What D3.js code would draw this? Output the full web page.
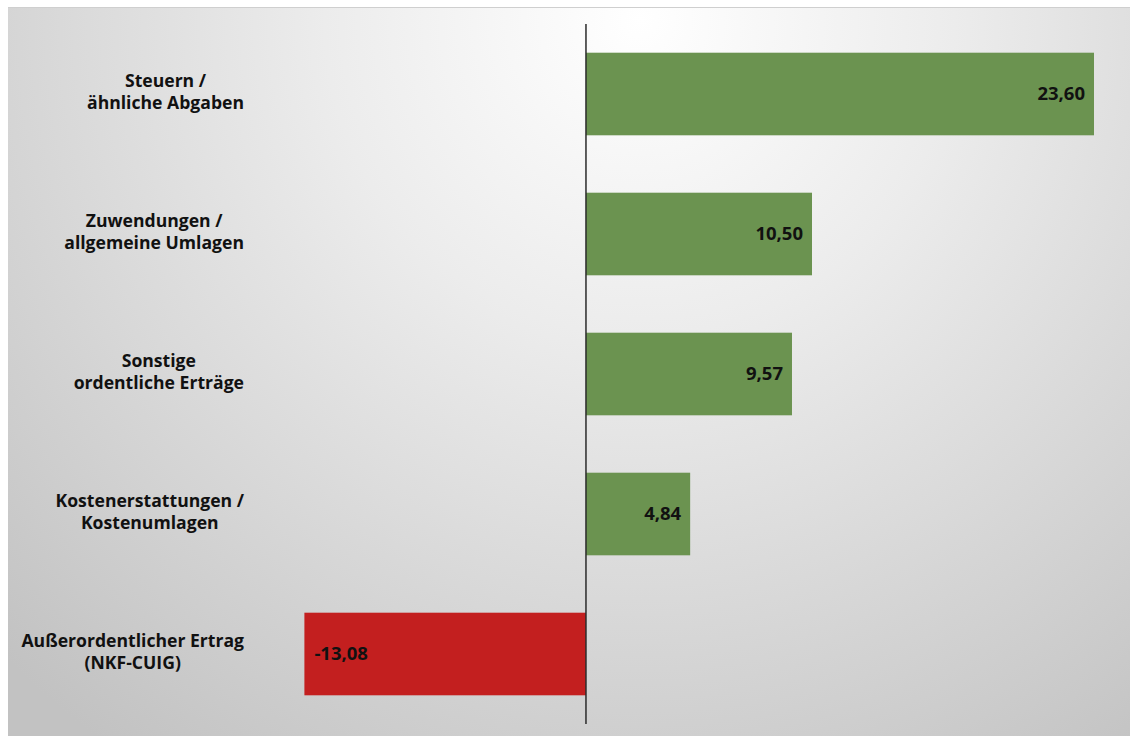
<!DOCTYPE html>
<html lang="de">
<head>
<meta charset="utf-8">
<script src="https://cdn.jsdelivr.net/npm/d3@7"></script>
<style>
  html, body { margin: 0; padding: 0; background: #ffffff; }
  svg { display: block; }
  text { font-family: "Open Sans", "Noto Sans", sans-serif; font-weight: 700; fill: #111; }
</style>
</head>
<body>
<svg id="chart" width="1134" height="736"></svg>
<script>
// Ertragsarten (Mio. EUR)
const categories = [
  ["Steuern /", "ähnliche Abgaben"],
  ["Zuwendungen /", "allgemeine Umlagen"],
  ["Sonstige", "ordentliche Erträge"],
  ["Kostenerstattungen /", "Kostenumlagen"],
  ["Außerordentlicher Ertrag", "(NKF-CUIG)"]
];
const values = [23.60, 10.50, 9.57, 4.84, -13.08];
const valueLabels = ["23,60", "10,50", "9,57", "4,84", "-13,08"];

const W = 1134, H = 736;
const svg = d3.select("#chart");

// Hintergrund mit radialem Verlauf
const defs = svg.append("defs");
const grad = defs.append("radialGradient")
  .attr("id", "bg")
  .attr("gradientUnits", "userSpaceOnUse")
  .attr("cx", 640).attr("cy", 20).attr("r", 900)
  .attr("fx", 640).attr("fy", 20);
grad.append("stop").attr("offset", "0%").attr("stop-color", "#ffffff");
grad.append("stop").attr("offset", "35%").attr("stop-color", "#ececec");
grad.append("stop").attr("offset", "100%").attr("stop-color", "#c2c2c2");

svg.append("rect")
  .attr("x", 8).attr("y", 7).attr("width", 1122).attr("height", H - 7)
  .attr("fill", "url(#bg)");
svg.append("line")
  .attr("x1", 8).attr("x2", 1130).attr("y1", 7.5).attr("y2", 7.5)
  .attr("stroke", "#cfcfcf").attr("stroke-width", 1);

const idx = d3.range(values.length);

const x = d3.scaleLinear()
  .domain([-13.08, 23.60])
  .range([304.4, 1094]);

const y = d3.scaleBand()
  .domain(idx)
  .range([24, 724])
  .paddingInner(0.41)
  .paddingOuter(0.205);

const colorFor = v => v >= 0 ? "#6b9350" : "#c31f1f";

// Balken
svg.append("g").selectAll("rect")
  .data(idx)
  .join("rect")
  .attr("x", i => Math.min(x(0), x(values[i])))
  .attr("y", i => y(i))
  .attr("width", i => Math.abs(x(values[i]) - x(0)))
  .attr("height", y.bandwidth())
  .attr("fill", i => colorFor(values[i]));

// Nulllinie
svg.append("line")
  .attr("x1", x(0)).attr("x2", x(0))
  .attr("y1", 24).attr("y2", 724)
  .attr("stroke", "#2b2b2b").attr("stroke-width", 1.5);

// Wertebeschriftungen
svg.append("g").selectAll("text")
  .data(idx)
  .join("text")
  .attr("x", i => values[i] >= 0 ? x(values[i]) - 9 : x(values[i]) + 10)
  .attr("y", i => y(i) + y.bandwidth() / 2)
  .attr("dy", "0.35em")
  .attr("text-anchor", i => values[i] >= 0 ? "end" : "start")
  .attr("font-size", 18.5)
  .attr("fill", "#111")
  .text(i => valueLabels[i]);

// Kategoriebeschriftungen: zeilenweise zentriert, Block rechtsbündig
const labelRight = 244, lineH = 22;
const lg = svg.append("g");
idx.forEach(i => {
  const g = lg.append("g");
  const lines = categories[i];
  const cy = y(i) + y.bandwidth() / 2 - 2;
  const texts = lines.map((s, k) => g.append("text")
    .attr("y", cy + (k - (lines.length - 1) / 2) * lineH)
    .attr("dy", "0.35em")
    .attr("text-anchor", "middle")
    .attr("font-size", 17.6)
    .text(s));
  const w = d3.max(texts, t => t.node().getComputedTextLength());
  const cx = labelRight - w / 2;
  texts.forEach(t => t.attr("x", cx));
});
</script>
</body>
</html>
